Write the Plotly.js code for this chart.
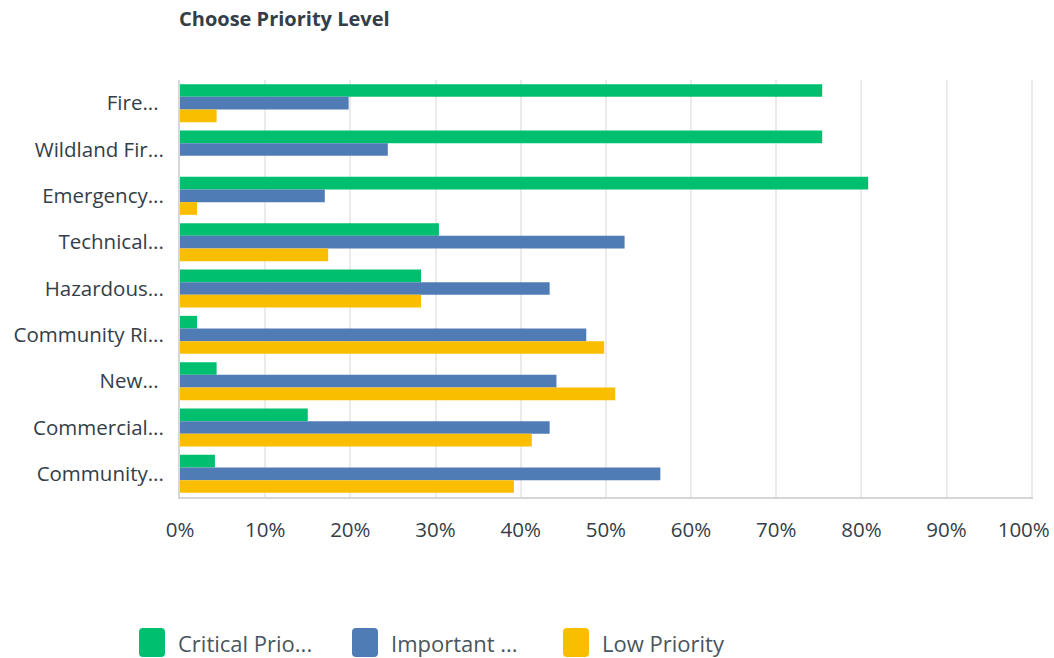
<!DOCTYPE html>
<html>
<head>
<meta charset="utf-8">
<script src="https://cdn.plot.ly/plotly-3.0.1.min.js"></script>
<style>html,body{margin:0;padding:0;background:#fff;}#chart{width:1054px;height:658px;}</style>
</head>
<body>
<div id="chart"></div>
<script>
const categories = ["Fire... ", "Wildland Fir...", "Emergency...", "Technical...", "Hazardous...", "Community Ri...", "New... ", "Commercial...", "Community..."];
const criticalValues = [75.4, 75.4, 80.8, 30.4, 28.3, 2.0, 4.3, 15.0, 4.1];
const importantValues = [19.8, 24.4, 17.0, 52.2, 43.4, 47.7, 44.2, 43.4, 56.4];
const lowValues = [4.3, 0, 2.0, 17.4, 28.3, 49.8, 51.1, 41.3, 39.2];
const seriesNames = ["Critical Prio...", "Important ...", "Low Priority"];
const seriesColors = ["#00bf6f", "#507cb6", "#f9be00"];
const xTickVals = [0,10,20,30,40,50,60,70,80,90];
const xTickText = ["0%","10%","20%","30%","40%","50%","60%","70%","80%","90%"];
const lastTickVals = [100];
const lastTickText = ["100%"];

const FONT = "Open Sans, Roboto, sans-serif";
const allValues = [criticalValues, importantValues, lowValues];
const traces = allValues.map((vals, i) => ({
  type: "bar",
  orientation: "h",
  y: categories,
  x: vals,
  name: seriesNames[i],
  marker: {color: seriesColors[i]},
  showlegend: false,
  hoverinfo: "x+y"
}));
// empty helper trace so the overlay axis (last tick label) is drawn
traces.push({type: "scatter", mode: "markers", x: [], y: [], xaxis: "x2", yaxis: "y", showlegend: false, hoverinfo: "skip"});

const M = {l: 180, r: 21, t: 80, b: 161};
const X_RANGE = [0, 100.15];
const tickFont = {family: FONT, size: 20.5, color: "#333e48"};
const layout = {
  width: 1054, height: 658,
  margin: M,
  paper_bgcolor: "#fff", plot_bgcolor: "#fff",
  title: {text: "<b>Choose Priority Level</b>", x: 179/1054, xanchor: "left", y: 1 - 19/658, yanchor: "middle",
          font: {family: FONT, size: 20, color: "#333e48"}},
  barmode: "group",
  bargap: 0.18,
  bargroupgap: 0,
  xaxis: {
    range: X_RANGE, tickvals: xTickVals, ticktext: xTickText,
    showgrid: true, gridcolor: "#ebebeb", gridwidth: 2,
    zeroline: false, showline: true, linecolor: "#d6d6d6", linewidth: 2,
    ticks: "", ticklabelstandoff: 13,
    tickfont: tickFont, fixedrange: true
  },
  xaxis2: {
    overlaying: "x", anchor: "y", side: "bottom",
    range: X_RANGE, tickvals: lastTickVals, ticktext: lastTickText,
    showgrid: true, gridcolor: "#ebebeb", gridwidth: 2,
    zeroline: false, showline: true, linecolor: "#d6d6d6", linewidth: 2,
    ticks: "", ticklabelstandoff: 13, ticklabelshift: -8,
    tickfont: tickFont, fixedrange: true
  },
  yaxis: {
    autorange: "reversed", type: "category",
    showgrid: false, zeroline: false, showline: true, linecolor: "#d6d6d6", linewidth: 2,
    ticks: "", ticklabelstandoff: 10,
    tickfont: tickFont, fixedrange: true
  },
  shapes: [],
  annotations: [],
  showlegend: false
};

// custom legend placed in paper coordinates
const plotW = 1054 - M.l - M.r, plotH = 658 - M.t - M.b;
const px = x => (x - M.l) / plotW;
const py = y => (658 - M.b - y) / plotH;
function roundRect(x, y, w, h, r) {
  const X = v => px(v), Y = v => py(v);
  return `M${X(x+r)},${Y(y)} L${X(x+w-r)},${Y(y)} Q${X(x+w)},${Y(y)} ${X(x+w)},${Y(y+r)} ` +
         `L${X(x+w)},${Y(y+h-r)} Q${X(x+w)},${Y(y+h)} ${X(x+w-r)},${Y(y+h)} ` +
         `L${X(x+r)},${Y(y+h)} Q${X(x)},${Y(y+h)} ${X(x)},${Y(y+h-r)} ` +
         `L${X(x)},${Y(y+r)} Q${X(x)},${Y(y)} ${X(x+r)},${Y(y)} Z`;
}
const legendLeft = [139, 352, 563];
legendLeft.forEach((x, i) => {
  layout.shapes.push({
    type: "path", xref: "paper", yref: "paper",
    path: roundRect(x, 628, 26, 29, 4),
    fillcolor: seriesColors[i], line: {width: 0}
  });
  layout.annotations.push({
    xref: "paper", yref: "paper", x: px(x + 37), y: py(643),
    xanchor: "left", yanchor: "middle", showarrow: false,
    text: seriesNames[i], font: {family: FONT, size: 22, color: "#4a5560"}
  });
});

Plotly.newPlot("chart", traces, layout, {displayModeBar: false, staticPlot: true});
</script>
</body>
</html>
